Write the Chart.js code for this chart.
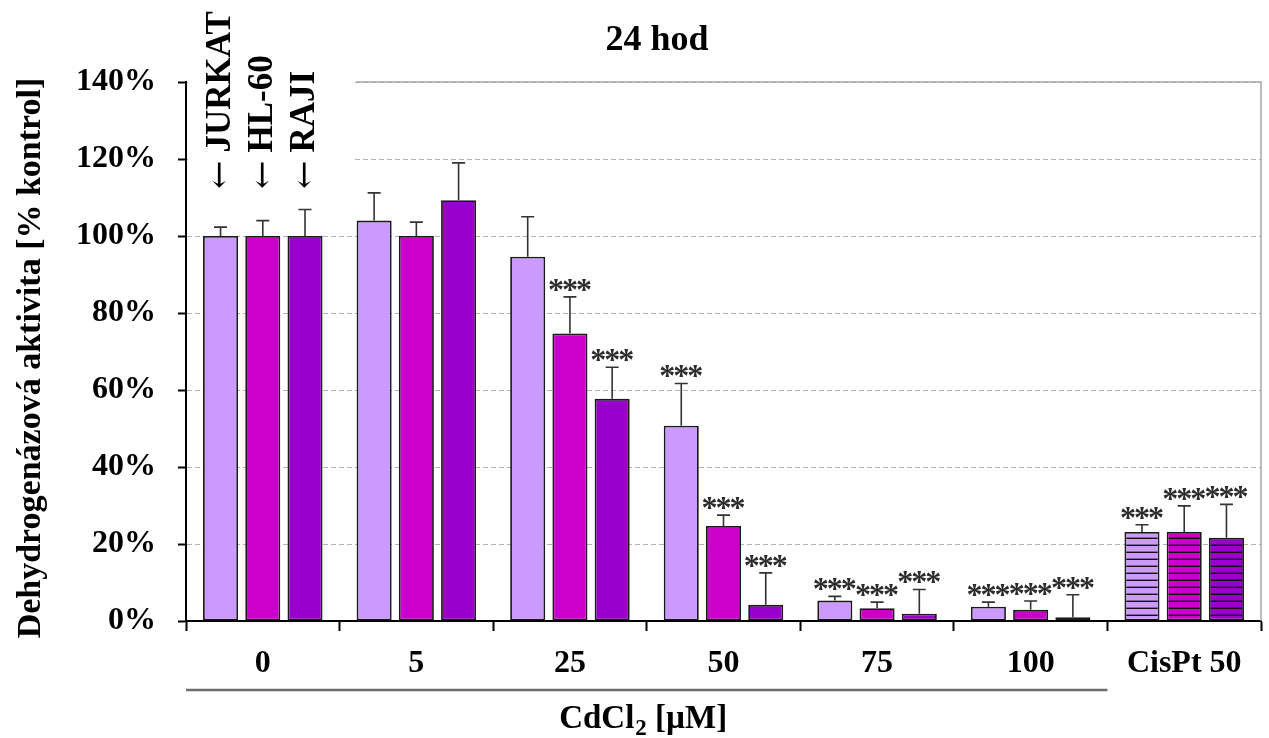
<!DOCTYPE html>
<html>
<head>
<meta charset="utf-8">
<script src="https://cdn.jsdelivr.net/npm/chart.js@4"></script>
<style>
  html, body { margin: 0; padding: 0; background: #fff; }
  #wrap { width: 1269px; height: 738px; }
</style>
</head>
<body>
<div id="wrap"><canvas id="chart" width="1269" height="738"></canvas></div>
<script>
// categories on x axis
const categories = ['0', '5', '25', '50', '75', '100', 'CisPt 50'];

// cell lines
const cellLines = ['JURKAT', 'HL-60', 'RAJI'];

// mean values (% of control)
const jurkat = [100, 104, 94.6, 50.7, 5.3, 3.7, 23.1];
const hl60   = [100, 100, 74.7, 24.7, 3.3, 2.9, 23.1];
const raji   = [100, 109.3, 57.7, 4.2, 1.9, 1.0, 21.6];

// error (upper whisker length)
const jurkatErr = [2.3, 7.2, 10.4, 11.0, 1.1, 1.2, 1.9];
const hl60Err   = [4.0, 3.6, 9.5, 2.8, 1.6, 2.3, 6.8];
const rajiErr   = [6.9, 9.7, 8.2, 8.3, 6.3, 5.8, 8.7];

// significance markers (***)
const jurkatSig = [false, false, false, true, true, true, true];
const hl60Sig   = [false, false, true, true, true, true, true];
const rajiSig   = [false, false, true, true, true, true, true];

const yTicks = [0, 20, 40, 60, 80, 100, 120, 140];

const colors = ['#CC99FF', '#CC00CC', '#9900CC'];
const FONT = "'Liberation Serif', 'Times New Roman', serif";

// striped fill for the cisplatin bars
function stripes(color) {
    const c = document.createElement('canvas');
    c.width = 8;
    c.height = 7;
    const x = c.getContext('2d');
    x.fillStyle = color;
    x.fillRect(0, 0, 8, 7);
    x.fillStyle = '#111';
    x.fillRect(0, 5.6, 8, 1.4);
    return x.createPattern(c, 'repeat');
}

function fills(color) {
    const p = stripes(color);
    return categories.map(c => c.startsWith('CisPt') ? p : color);
}

const errors = [jurkatErr, hl60Err, rajiErr];
const sigs = [jurkatSig, hl60Sig, rajiSig];

const extras = {
    id: 'extras',
    beforeDatasetsDraw(chart) {
        const {ctx, chartArea} = chart;
        // white box behind the cell line labels
        ctx.save();
        ctx.fillStyle = '#fff';
        ctx.fillRect(chartArea.left + 2, chartArea.top - 4, 355 - chartArea.left - 2, 112);
        // plot frame top and right
        ctx.strokeStyle = '#a6a6a6';
        ctx.lineWidth = 1.5;
        ctx.beginPath();
        ctx.moveTo(356, chartArea.top);
        ctx.lineTo(chartArea.right, chartArea.top);
        ctx.lineTo(chartArea.right, chartArea.bottom);
        ctx.stroke();
        ctx.restore();
    },
    afterDatasetsDraw(chart) {
        const {ctx, scales} = chart;
        const y = scales.y;
        ctx.save();
        chart.data.datasets.forEach((ds, di) => {
            const meta = chart.getDatasetMeta(di);
            meta.data.forEach((bar, i) => {
                const top = y.getPixelForValue(ds.data[i] + errors[di][i]);
                ctx.strokeStyle = '#333';
                ctx.lineWidth = 1.6;
                ctx.beginPath();
                ctx.moveTo(bar.x, bar.y);
                ctx.lineTo(bar.x, top);
                ctx.moveTo(bar.x - 6.5, top);
                ctx.lineTo(bar.x + 6.5, top);
                ctx.stroke();
                if (sigs[di][i]) {
                    ctx.fillStyle = '#2b2b2b';
                    ctx.font = 'bold 32px ' + FONT;
                    ctx.textAlign = 'center';
                    ctx.textBaseline = 'alphabetic';
                    [-14, 0, 14].forEach(dx => ctx.fillText('*', bar.x + dx, top + 3));
                }
            });
        });

        // cell line labels above first group
        ctx.fillStyle = '#000';
        ctx.textAlign = 'left';
        ctx.textBaseline = 'middle';
        cellLines.forEach((name, di) => {
            const bar = chart.getDatasetMeta(di).data[0];
            ctx.save();
            ctx.translate(bar.x, 189);
            ctx.rotate(-Math.PI / 2);
            ctx.font = '34px "DejaVu Serif", ' + FONT;
            ctx.fillText('\u2190', 0, 1);
            const wa = ctx.measureText('\u2190').width;
            ctx.font = 'bold 35px ' + FONT;
            ctx.fillText(name, wa + 8, 0);
            ctx.restore();
        });

        // title
        ctx.font = 'bold 36px ' + FONT;
        ctx.textAlign = 'center';
        ctx.textBaseline = 'alphabetic';
        ctx.fillText('24 hod', 657, 50);

        // y axis title
        ctx.save();
        ctx.translate(31, 358);
        ctx.rotate(-Math.PI / 2);
        ctx.font = 'bold 34px ' + FONT;
        ctx.textBaseline = 'middle';
        ctx.fillText('Dehydrogenázová aktivita [% kontrol]', 0, 0);
        ctx.restore();

        // bracket line under the CdCl2 groups
        const x = scales.x;
        const half = (x.getPixelForValue(1) - x.getPixelForValue(0)) / 2;
        const x0 = x.getPixelForValue(0) - half;
        const x1 = x.getPixelForValue(5) + half;
        ctx.strokeStyle = '#6e6e6e';
        ctx.lineWidth = 2.5;
        ctx.beginPath();
        ctx.moveTo(x0, 690);
        ctx.lineTo(x1, 690);
        ctx.stroke();

        // CdCl2 [µM]
        const mid = (x0 + x1) / 2 - 4;
        ctx.font = 'bold 33px ' + FONT;
        const a = 'CdCl', b = '2', c = ' [µM]';
        const wa = ctx.measureText(a).width;
        const wc = ctx.measureText(c).width;
        ctx.font = 'bold 23px ' + FONT;
        const wb = ctx.measureText(b).width;
        const sx = mid - (wa + wb + wc) / 2;
        ctx.textAlign = 'left';
        ctx.font = 'bold 33px ' + FONT;
        ctx.fillText(a, sx, 728);
        ctx.font = 'bold 23px ' + FONT;
        ctx.fillText(b, sx + wa + 1, 735);
        ctx.font = 'bold 33px ' + FONT;
        ctx.fillText(c, sx + wa + wb + 1, 728);
        ctx.restore();
    }
};

const datasets = [jurkat, hl60, raji].map((vals, i) => ({
    label: cellLines[i],
    data: vals,
    backgroundColor: fills(colors[i]),
    borderColor: '#1a1a1a',
    borderWidth: 1.8,
    borderSkipped: false,
    barPercentage: 0.83,
    categoryPercentage: 0.825
}));

new Chart(document.getElementById('chart'), {
    type: 'bar',
    data: {labels: categories, datasets},
    plugins: [extras],
    options: {
        responsive: false,
        animation: false,
        layout: {padding: {top: 82, right: 8, left: 0, bottom: 0}},
        plugins: {
            legend: {display: false},
            tooltip: {enabled: false}
        },
        scales: {
            x: {
                afterFit(scale) { scale.height = 117; },
                grid: {
                    offset: true,
                    drawOnChartArea: false,
                    tickLength: 10,
                    tickColor: '#000',
                    tickWidth: 2
                },
                border: {color: '#000', width: 2},
                ticks: {
                    color: '#000',
                    font: {family: FONT, size: 32, weight: 'bold'},
                    padding: 14,
                    maxRotation: 0
                }
            },
            y: {
                min: 0,
                max: 140,
                afterFit(scale) { scale.width = 186; },
                afterBuildTicks(scale) { scale.ticks = yTicks.map(v => ({value: v})); },
                grid: {
                    color: '#b3b3b3',
                    lineWidth: 1,
                    tickLength: 8,
                    tickColor: '#000',
                    tickWidth: 2
                },
                border: {color: '#000', width: 2, dash: [5, 3]},
                ticks: {
                    color: '#000',
                    font: {family: FONT, size: 32, weight: 'bold'},
                    padding: 22,
                    callback: v => v + '%'
                }
            }
        }
    }
});
</script>
</body>
</html>
